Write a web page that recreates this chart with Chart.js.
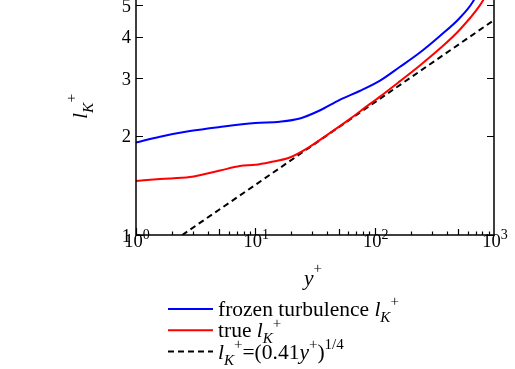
<!DOCTYPE html>
<html><head><meta charset="utf-8">
<script src="https://cdn.jsdelivr.net/npm/chart.js@4.4.0/dist/chart.umd.min.js"></script>
<style>html,body{margin:0;padding:0;background:#fff;}#wrap{width:515px;height:369px;position:relative;}</style>
</head><body><div id="wrap"><canvas id="c" width="515" height="369"></canvas></div>
<script>
// ---- data ----
const frozenX = [1, 1.59, 2.83, 5.05, 10, 16, 23.6, 34.6, 50.9, 74.9, 110, 162, 238, 350, 514, 661, 1000];
const frozenY = [1.91, 1.99, 2.07, 2.13, 2.19, 2.21, 2.26, 2.39, 2.575, 2.74, 2.94, 3.24, 3.58, 4.02, 4.56, 5.10, 6.9];
const trueX = [1, 1.59, 2.83, 5.05, 7.42, 10, 13.2, 19.4, 28.6, 42, 61.8, 90.8, 110, 162, 238, 350, 514, 756, 1000];
const trueY = [1.46, 1.48, 1.50, 1.57, 1.62, 1.635, 1.665, 1.72, 1.855, 2.04, 2.25, 2.50, 2.63, 2.93, 3.27, 3.68, 4.20, 4.97, 5.9];
const fitX = [2.44, 10, 100, 1000];
const fitY = [1.0, 1.42, 2.53, 4.50];
const xMajorTicks = [1, 10, 100, 1000];
const xTickBase = '10';
const xTickExponents = ['0', '1', '2', '3'];
const yTicks = [1, 2, 3, 4, 5];
const yTickLabels = ['1', '2', '3', '4', '5'];
const seriesLabels = ['frozen turbulence lK+', 'true lK+', 'lK+=(0.41y+)1/4'];
const legendParts = [
  [{t:'frozen turbulence '},{t:'l',i:1},{t:'K',i:1,sub:1},{t:'+',sup:1}],
  [{t:'true '},{t:'l',i:1},{t:'K',i:1,sub:1},{t:'+',sup:1}],
  [{t:'l',i:1},{t:'K',i:1,sub:1},{t:'+',sup:1},{t:'=(0.41'},{t:'y',i:1},{t:'+',sup:1},{t:')'},{t:'1/4',sup:1}]
];
const yTitleParts = [{t:'l',i:1},{t:'K',i:1,sub:1},{t:'+',sup:1}];
const xTitleParts = [{t:'y',i:1},{t:'+',sup:1}];

const FONT = '"Liberation Serif", "Times New Roman", serif';
function toXY(xs, ys){ return xs.map((v,k)=>({x:v, y:ys[k]})); }

function drawRich(ctx, parts, x, y, size, supShift){
  let cx = x;
  const ss = supShift || 0.45;
  for (const p of parts){
    const s = (p.sub||p.sup) ? size*0.7 : size;
    const dy = p.sub ? size*0.28 : (p.sup ? -size*ss : 0);
    ctx.font = (p.i ? 'italic ' : '') + s + 'px ' + FONT;
    ctx.fillText(p.t, cx, y+dy);
    cx += ctx.measureText(p.t).width;
  }
  return cx - x;
}

const axesPlugin = {
  id: 'axesPlugin',
  afterDraw(chart){
    const ctx = chart.ctx, a = chart.chartArea, xs = chart.scales.x, ys = chart.scales.y;
    ctx.save();
    ctx.strokeStyle = '#000'; ctx.fillStyle = '#000';
    ctx.lineWidth = 1.5;
    ctx.beginPath();
    ctx.moveTo(a.left, a.top); ctx.lineTo(a.left, a.bottom);
    ctx.lineTo(a.right, a.bottom); ctx.lineTo(a.right, a.top);
    ctx.stroke();
    // x ticks (inward)
    ctx.lineWidth = 1.2;
    ctx.beginPath();
    for (let d = 0; d < 3; d++){
      for (let m = 1; m <= 9; m++){
        const v = m*Math.pow(10,d);
        const px = Math.round(xs.getPixelForValue(v)) + 0.5;
        const len = m === 1 ? 7 : (m === 5 ? 6 : 3.5);
        ctx.moveTo(px, a.bottom); ctx.lineTo(px, a.bottom - len);
      }
    }
    ctx.stroke();
    // y ticks both sides
    ctx.beginPath();
    yTicks.forEach(v => {
      const py = Math.round(ys.getPixelForValue(v)) + 0.5;
      ctx.moveTo(a.left, py); ctx.lineTo(a.left + 7, py);
      ctx.moveTo(a.right, py); ctx.lineTo(a.right - 7, py);
    });
    ctx.stroke();
    // x tick labels
    ctx.textBaseline = 'alphabetic';
    const TF = 18.5, SF = 14;
    xMajorTicks.forEach((v,k) => {
      const px = xs.getPixelForValue(v);
      ctx.font = TF + 'px ' + FONT;
      const w1 = ctx.measureText(xTickBase).width;
      ctx.font = SF + 'px ' + FONT;
      const w2 = ctx.measureText(xTickExponents[k]).width;
      const x0 = px - (w1 + w2)/2 + 1;
      ctx.font = TF + 'px ' + FONT;
      ctx.fillText(xTickBase, x0, a.bottom + 12);
      ctx.font = SF + 'px ' + FONT;
      ctx.fillText(xTickExponents[k], x0 + w1, a.bottom + 4);
    });
    // y tick labels
    ctx.font = TF + 'px ' + FONT;
    ctx.textAlign = 'right';
    yTicks.forEach((v,k) => {
      const py = ys.getPixelForValue(v);
      ctx.fillText(yTickLabels[k], a.left - 5, py + 6.5);
    });
    ctx.textAlign = 'left';
    // y title
    ctx.save();
    ctx.translate(87, 119);
    ctx.rotate(-Math.PI/2);
    drawRich(ctx, yTitleParts, 0, 0, 22, 0.5);
    ctx.restore();
    // x title
    drawRich(ctx, xTitleParts, 304, a.bottom + 49.5, 21.5, 0.55);
    // legend
    chart.data.datasets.forEach((ds, k) => {
      const ly = 309 + 21.3*k;
      ctx.save();
      ctx.strokeStyle = ds.borderColor; ctx.lineWidth = ds.borderWidth;
      ctx.setLineDash(ds.borderDash || []);
      ctx.beginPath(); ctx.moveTo(168, ly); ctx.lineTo(213, ly); ctx.stroke();
      ctx.restore();
      drawRich(ctx, legendParts[k], 218, ly + 7, 21.5, 0.45);
    });
    ctx.restore();
  }
};

new Chart(document.getElementById('c'), {
  type: 'line',
  data: {
    datasets: [
      {label: seriesLabels[0], data: toXY(frozenX, frozenY), borderColor: '#0000ff', borderWidth: 2, pointRadius: 0, cubicInterpolationMode: 'monotone', fill: false},
      {label: seriesLabels[1], data: toXY(trueX, trueY), borderColor: '#ff0000', borderWidth: 2, pointRadius: 0, cubicInterpolationMode: 'monotone', fill: false},
      {label: seriesLabels[2], data: toXY(fitX, fitY), borderColor: '#000000', borderWidth: 2, borderDash: [6,4], pointRadius: 0, tension: 0, fill: false}
    ]
  },
  options: {
    responsive: false,
    animation: false,
    events: [],
    layout: {padding: {left: 136, right: 21, top: 0, bottom: 134}},
    plugins: {legend: {display: false}, tooltip: {enabled: false}},
    scales: {
      x: {type: 'logarithmic', min: 1, max: 1000, display: false},
      y: {type: 'logarithmic', min: 1, max: 5.18, display: false}
    }
  },
  plugins: [axesPlugin]
});
</script></body></html>
